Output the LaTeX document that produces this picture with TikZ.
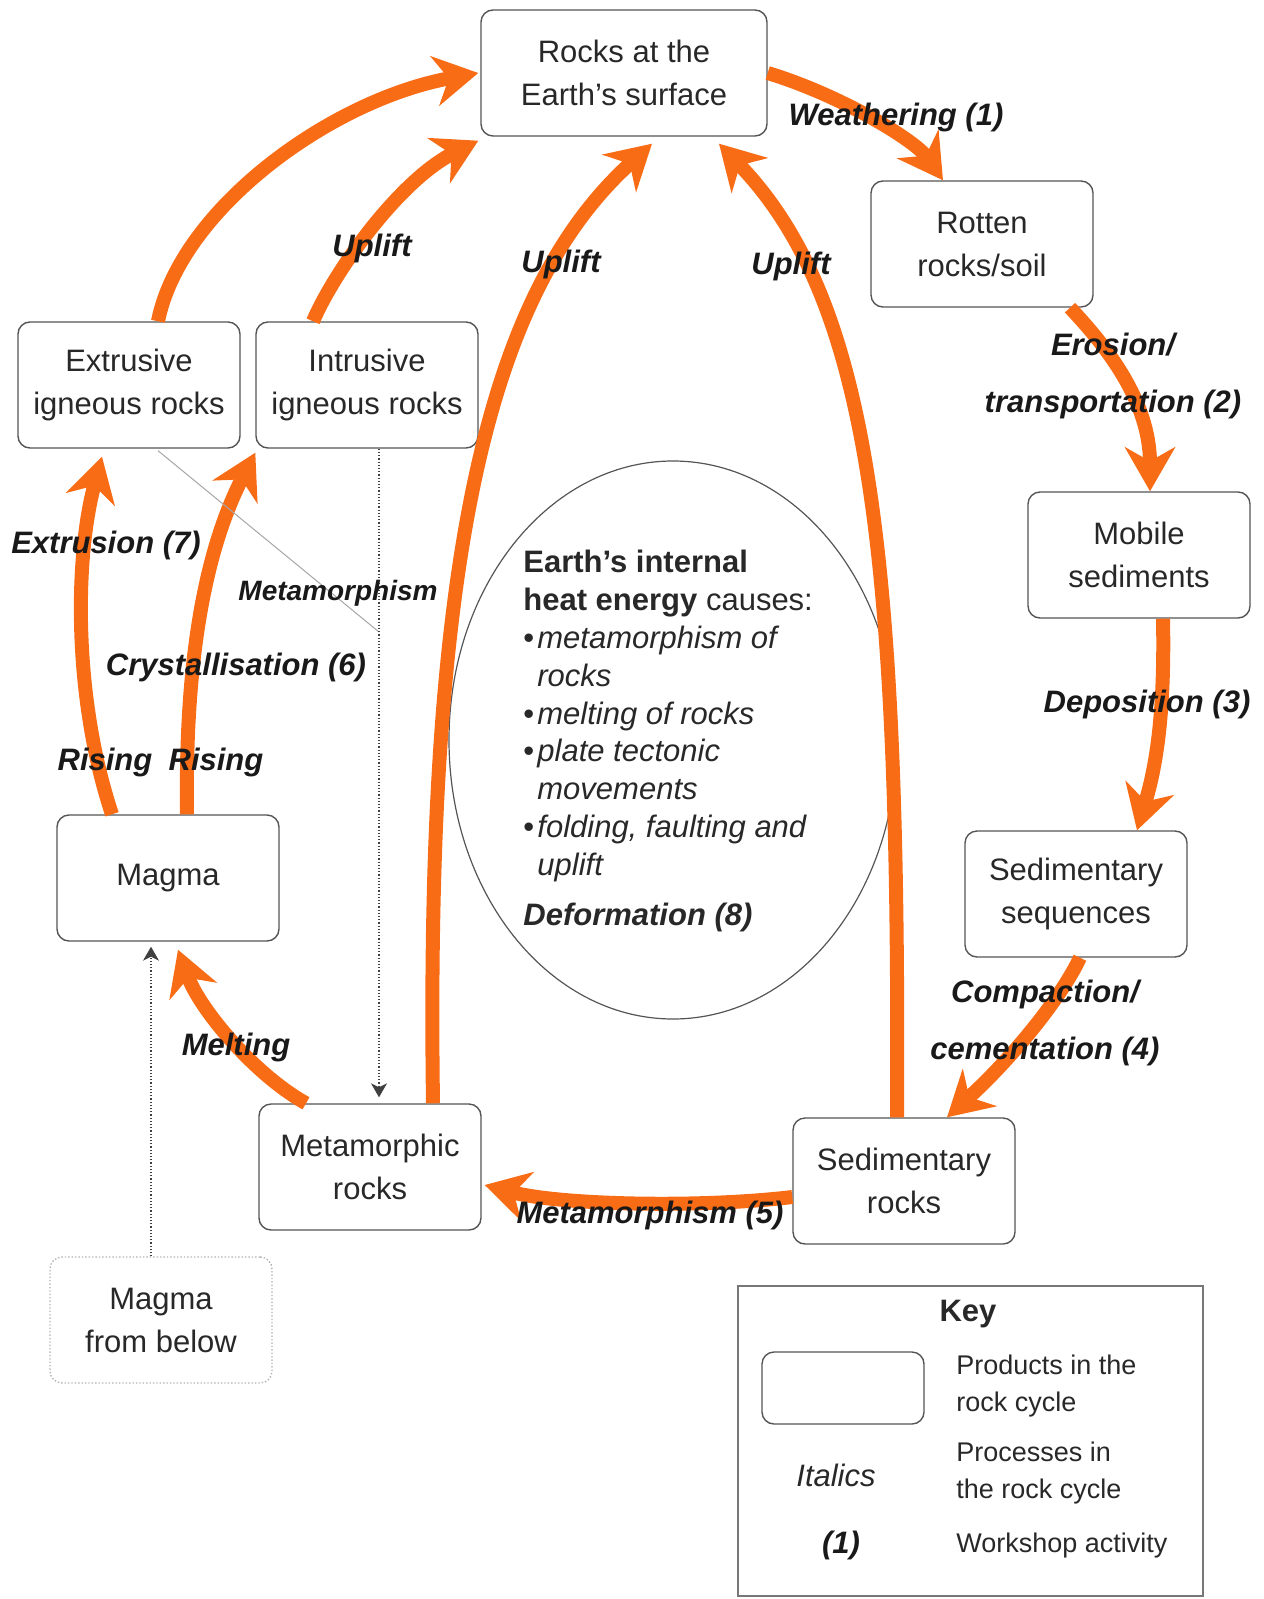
\documentclass[tikz,border=0pt]{standalone}
\usepackage{fontspec}
\setmainfont{Liberation Sans}
\usetikzlibrary{arrows.meta, positioning, calc, shapes.geometric}
\definecolor{rockorange}{RGB}{248,108,22}
\definecolor{boxgray}{RGB}{85,85,85}
\definecolor{txtgray}{RGB}{40,40,40}

\begin{document}
\begin{tikzpicture}[x=0.5pt, y=-0.5pt, >=Stealth,
  product/.style={draw=boxgray, line width=0.7pt, rounded corners=6pt,
    minimum width=111pt, minimum height=63pt, align=center, inner sep=0pt,
    text=txtgray, font=\fontsize{15.5}{21.5}\selectfont},
  process/.style={font=\fontsize{15.5}{28.5}\selectfont\bfseries\itshape,
    align=center, text=black!90, inner sep=0pt},
  rockflow/.style={draw=rockorange, line width=7pt,
    -{Stealth[length=22pt, width=25pt, inset=7pt]}},
  feedline/.style={densely dotted, line width=0.6pt, draw=black!75,
    -{Stealth[length=7pt, width=8pt, inset=2pt]}},
  keytext/.style={anchor=west, align=left, inner sep=0pt, text=txtgray,
    font=\fontsize{13.5}{18.9}\selectfont}]
  \useasboundingbox (0,0) rectangle (1263,1599);

  % Products
  \node[product, minimum width=143pt] (surface) at (624,73) {Rocks at the\\Earth's surface};
  \node[product] (rotten) at (982,244) {Rotten\\rocks/soil};
  \node[product] (mobile) at (1139,555) {Mobile\\sediments};
  \node[product] (sedseq) at (1076,894) {Sedimentary\\sequences};
  \node[product] (sedrocks) at (904,1181) {Sedimentary\\rocks};
  \node[product] (meta) at (370,1167) {Metamorphic\\rocks};
  \node[product] (magma) at (168,878) {Magma};
  \node[product, draw=gray!60, densely dotted] (below) at (161,1320) {Magma\\from below};
  \node[product] (extrusive) at (129,385) {Extrusive\\igneous rocks};
  \node[product] (intrusive) at (367,385) {Intrusive\\igneous rocks};

  % Internal heat
  \node[ellipse, draw=boxgray, line width=0.6pt, minimum width=224pt,
    minimum height=279pt, inner sep=0pt] (heat) at (673,740) {};
  \node[anchor=west, align=left, inner sep=0pt, text=txtgray,
    font=\fontsize{15.5}{18.9}\selectfont] (heattext) at (523,741)
    {{\bfseries Earth's internal}\\
     {\bfseries heat energy} causes:\\
     \makebox[7pt][l]{\textbullet}{\itshape metamorphism of}\\
     \hspace*{7pt}{\itshape rocks}\\
     \makebox[7pt][l]{\textbullet}{\itshape melting of rocks}\\
     \makebox[7pt][l]{\textbullet}{\itshape plate tectonic}\\
     \hspace*{7pt}{\itshape movements}\\
     \makebox[7pt][l]{\textbullet}{\itshape folding, faulting and}\\
     \hspace*{7pt}{\itshape uplift}\\[6pt]
     {\bfseries\itshape Deformation (8)}};

  % Cycle arrows
  \draw[rockflow] (surface.east) .. controls (840,95) and (915,140) .. ($(rotten.north)+(-39,0)$);
  \draw[rockflow] ($(rotten.south)+(88,0)$) .. controls (1105,345) and (1150,400) .. ($(mobile.north)+(11,0)$);
  \draw[rockflow] ($(mobile.south)+(24,0)$) .. controls (1165,720) and (1155,770) .. ($(sedseq.north)+(61,0)$);
  \draw[rockflow] ($(sedseq.south)+(4,0)$) .. controls (1060,1000) and (1010,1060) .. ($(sedrocks.north)+(43,0)$);
  \draw[rockflow] ($(sedrocks.west)+(0,16)$) .. controls (700,1208) and (560,1205) .. ($(meta.east)+(3,18)$);
  \draw[rockflow] ($(meta.north)+(-64,0)$) .. controls (255,1075) and (200,1010) .. ($(magma.south)+(10,8)$);
  \draw[rockflow] ($(magma.north)+(-56,0)$) .. controls (74,700) and (74,560) .. ($(extrusive.south)+(-27,8)$);
  \draw[rockflow] ($(magma.north)+(19,0)$) .. controls (185,680) and (200,560) .. ($(intrusive.south west)+(0,4)$);
  \draw[rockflow] ($(extrusive.north)+(29,0)$) .. controls (180,210) and (330,100) .. ($(surface.west)+(-2,0)$);
  \draw[rockflow] ($(intrusive.north)+(-54,0)$) .. controls (335,270) and (400,180) .. ($(surface.south west)+(-2,4)$);
  \draw[rockflow] ($(meta.north)+(63,0)$) .. controls (425,550) and (490,290) .. ($(surface.south)+(28,7)$);
  \draw[rockflow] ($(sedrocks.north)+(-7,0)$) .. controls (900,550) and (870,300) .. ($(surface.south)+(95,7)$);

  % Other links
  \coordinate (contact) at (379,632);
  \draw[gray!70, line width=0.5pt] ($(extrusive.south)+(29,2)$) -- (contact);
  \draw[feedline] ($(intrusive.south)+(12,0)$) -- ($(meta.north)+(9,-6)$);
  \draw[feedline] ($(below.north)+(-10,0)$) -- ($(magma.south)+(-17,5)$);

  % Processes
  \node[process] (weathering) at (896,117) {Weathering (1)};
  \node[process] (upliftA) at (372,248) {Uplift};
  \node[process] (upliftB) at (561,264) {Uplift};
  \node[process] (upliftC) at (791,266) {Uplift};
  \node[process] (erosion) at (1113,376) {Erosion/\\transportation (2)};
  \node[process] (deposition) at (1147,704) {Deposition (3)};
  \node[process] (compaction) at (1045,1023) {Compaction/\\cementation (4)};
  \node[process] (metaB) at (650,1215) {Metamorphism (5)};
  \node[process] (melting) at (236,1047) {Melting};
  \node[process] (risingA) at (105,762) {Rising};
  \node[process] (risingB) at (216,762) {Rising};
  \node[process] (crystal) at (236,667) {Crystallisation (6)};
  \node[process] (extrusion) at (106,545) {Extrusion (7)};
  \node[process, font=\fontsize{14}{17}\selectfont\bfseries\itshape] (metaA) at (338,593) {Metamorphism};

  % Key
  \node[draw=boxgray!80, line width=0.6pt, minimum width=232.5pt,
    minimum height=155pt, inner sep=0pt] (keybox) at (970.5,1441) {};
  \node[font=\fontsize{15.5}{18}\selectfont\bfseries, text=txtgray] (keytitle) at (968,1314) {Key};
  \node[product, minimum width=81pt, minimum height=36pt] (keysample) at (843,1388) {};
  \node[keytext] (keyprod) at (956,1386) {Products in the\\rock cycle};
  \node[font=\fontsize{15.5}{18}\selectfont\itshape, text=txtgray] (keyital) at (836,1475) {Italics};
  \node[keytext] (keyproc) at (956,1473) {Processes in\\the rock cycle};
  \node[process] (keynum) at (841,1545) {(1)};
  \node[keytext] (keywork) at (956,1545) {Workshop activity};
\end{tikzpicture}
\end{document}
